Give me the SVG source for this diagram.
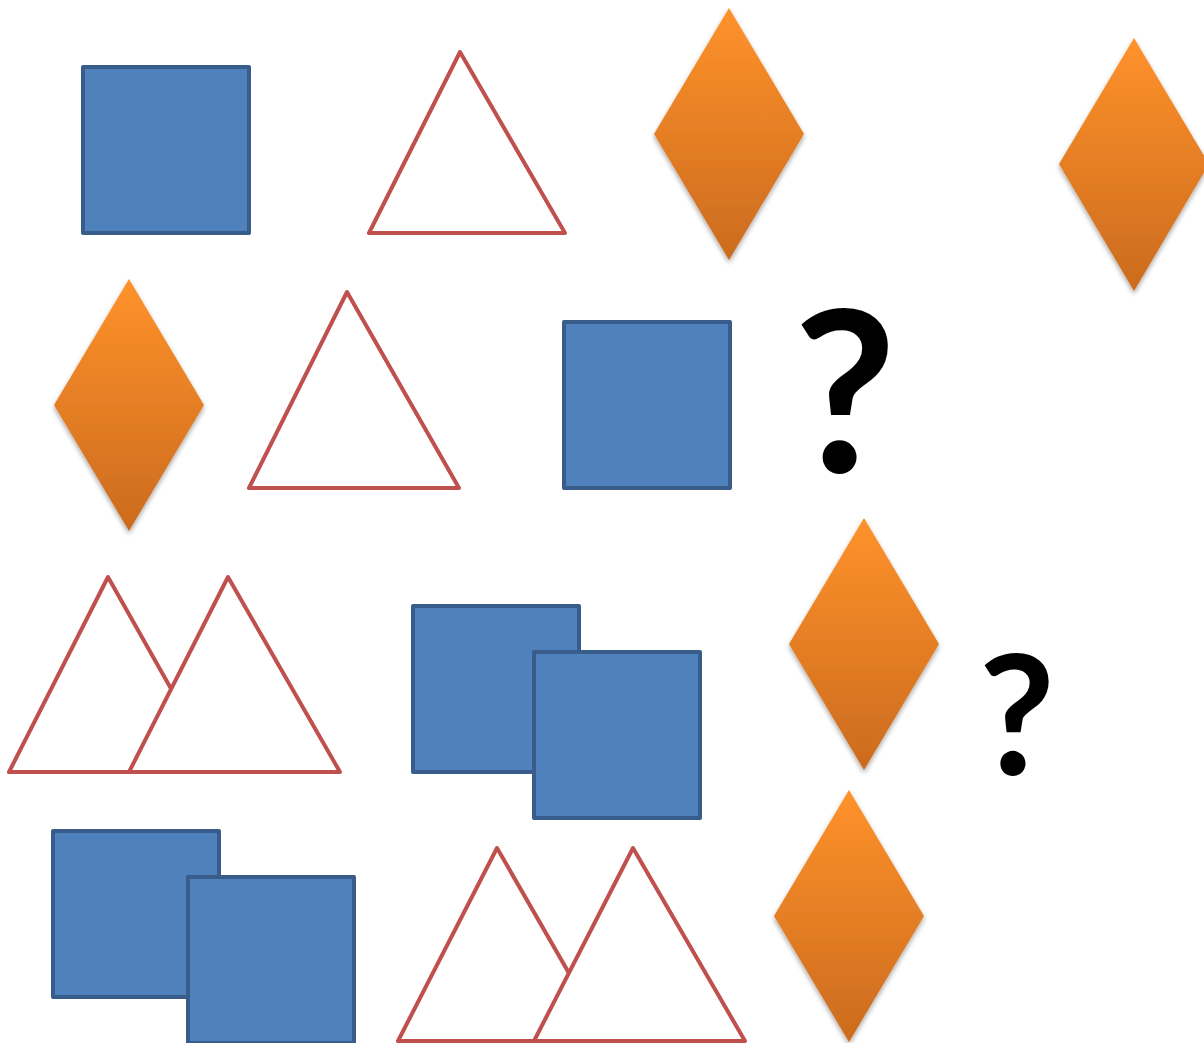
<svg xmlns="http://www.w3.org/2000/svg" width="1204" height="1043" viewBox="0 0 1204 1043">
<defs>
<linearGradient id="og" x1="0" y1="0" x2="0" y2="1">
<stop offset="0" stop-color="#FF922B"/>
<stop offset="1" stop-color="#CB6B1E"/>
</linearGradient>
<filter id="sh" x="-20%" y="-10%" width="140%" height="125%">
<feDropShadow dx="0" dy="3" stdDeviation="2.5" flood-color="#000" flood-opacity="0.35"/>
</filter>
<style>
.sq{fill:#4F81BD;stroke:#385D8A;stroke-width:4;stroke-linejoin:round}
.tr{fill:#fff;stroke:#C0504D;stroke-width:4;stroke-linejoin:round}
.dm{fill:url(#og);filter:url(#sh)}
.q{font-family:Lato,"Open Sans",sans-serif;font-weight:bold;fill:#000;text-anchor:middle}
</style>
</defs>
<rect width="1204" height="1043" fill="#fff"/>
<g id="square1"><rect class="sq" x="83" y="67" width="166" height="166"/></g>
<g id="triangle1"><polygon class="tr" points="460,52 369,233 565,233"/></g>
<g id="diamond1"><polygon class="dm" points="729,8 804,134 729,260 654,134"/></g>
<g id="diamond2"><polygon class="dm" points="1134,38 1209,164 1134,291 1059,164"/></g>
<g id="diamond3"><polygon class="dm" points="129,279 204,405 129,531 54,405"/></g>
<g id="triangle2"><polygon class="tr" points="347,292 249,488 459,488"/></g>
<g id="square2"><rect class="sq" x="564" y="322" width="166" height="166"/></g>
<g id="q1"><text class="q" x="845" y="472" font-size="224">?</text></g>
<g id="triangle3"><polygon class="tr" points="108,577 9,772 218,772"/></g>
<g id="triangle4"><polygon class="tr" points="228,577 129,772 340,772"/></g>
<g id="square3"><rect class="sq" x="413" y="606" width="166" height="166"/></g>
<g id="square4"><rect class="sq" x="534" y="652" width="166" height="166"/></g>
<g id="diamond4"><polygon class="dm" points="864,518 939,644 864,770 789,644"/></g>
<g id="q2"><text class="q" x="1017" y="775" font-size="166">?</text></g>
<g id="square5"><rect class="sq" x="53" y="831" width="166" height="166"/></g>
<g id="square6"><rect class="sq" x="188" y="877" width="166" height="166"/></g>
<g id="triangle5"><polygon class="tr" points="497,848 398,1041 608,1041"/></g>
<g id="triangle6"><polygon class="tr" points="633,848 534,1041 745,1041"/></g>
<g id="diamond5"><polygon class="dm" points="849,790 924,916 849,1042 774,916"/></g>
<g id="connectors"></g>
</svg>
